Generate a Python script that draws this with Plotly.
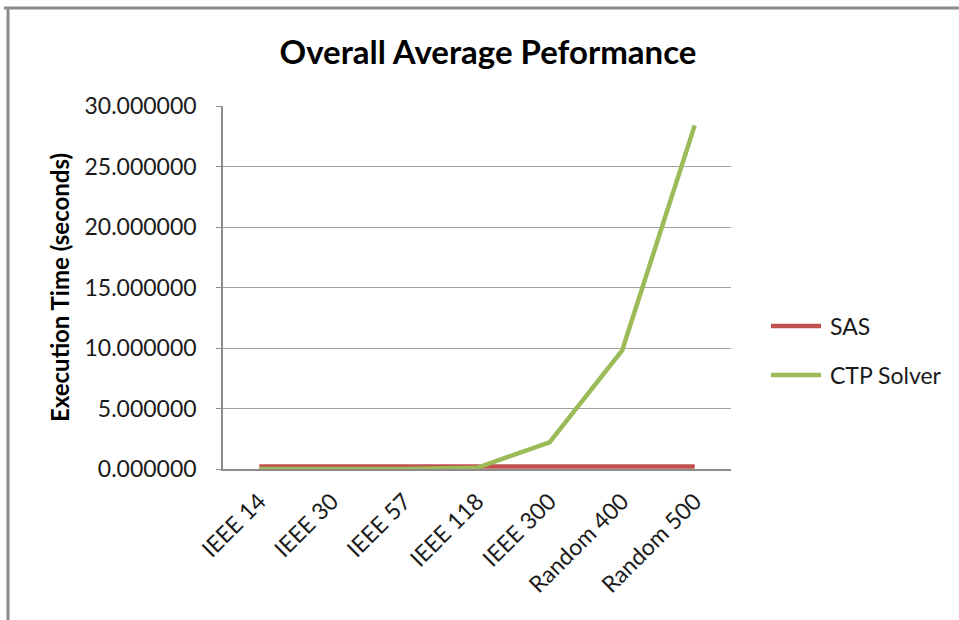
import plotly.graph_objects as go

# Benchmark cases and average execution times (seconds)
cases = ["IEEE 14", "IEEE 30", "IEEE 57", "IEEE 118", "IEEE 300", "Random 400", "Random 500"]
sas_times = [0.2, 0.2, 0.2, 0.2, 0.2, 0.2, 0.2]
ctp_times = [0.0, 0.0, 0.01, 0.1, 2.2, 9.8, 28.4]
y_ticks = [0, 5, 10, 15, 20, 25, 30]

series = [("SAS", sas_times, "#C0504D"), ("CTP Solver", ctp_times, "#9BBB59")]

FONT = "Lato"
TXT = "#1a1a1a"
W, H = 959, 620
L, R, T, B = 223, 731, 106, 469  # plot-area edges in pixels


def px_x(px):
    return (px - L) / (R - L)


def px_y(py):
    return (B - py) / (B - T)


fig = go.Figure()
for name, vals, color in series:
    fig.add_trace(go.Scatter(
        x=cases, y=vals, name=name, mode="lines",
        line=dict(color=color, width=4.5), showlegend=False,
    ))

# legend drawn beside the plot: a line swatch and a label per series
for i, (name, _, color) in enumerate(series):
    ly = 326 + 49 * i
    fig.add_shape(type="line", xref="paper", yref="paper",
                  x0=px_x(771), x1=px_x(821), y0=px_y(ly), y1=px_y(ly),
                  line=dict(color=color, width=4.5))
    fig.add_annotation(xref="paper", yref="paper", x=px_x(828), y=px_y(ly),
                       xanchor="left", yanchor="middle", showarrow=False,
                       text=name, font=dict(family=FONT, size=23, color=TXT))

# chart frame (top and left edges of the outer border)
fig.add_shape(type="line", xref="paper", yref="paper",
              x0=px_x(4), x1=px_x(W + 5), y0=px_y(8), y1=px_y(8),
              line=dict(color="#8c8c8c", width=3))
fig.add_shape(type="line", xref="paper", yref="paper",
              x0=px_x(8), x1=px_x(8), y0=px_y(8), y1=px_y(H + 5),
              line=dict(color="#8c8c8c", width=3))

fig.update_layout(
    width=W, height=H,
    margin=dict(l=L, r=W - R, t=T, b=H - B, pad=0),
    paper_bgcolor="white", plot_bgcolor="white",
    font=dict(family=FONT, size=23, color=TXT),
    title=dict(
        text="<b>Overall Average Peformance</b>",
        x=488 / W, xanchor="center", y=1 - 52 / H, yanchor="middle",
        font=dict(family=FONT, size=33, color="#000000"),
    ),
    showlegend=False,
)

fig.update_xaxes(
    type="category", range=[-0.5, len(cases) - 0.5],
    showgrid=False, zeroline=False,
    showline=True, linecolor="#8c8c8c", linewidth=1.5,
    ticks="", tickangle=-45, ticklabelstandoff=8,
    tickfont=dict(family=FONT, size=23, color=TXT),
)
fig.update_yaxes(
    range=[0, 30], tickvals=y_ticks, tickformat=".6f",
    showgrid=True, gridcolor="#a0a0a0", gridwidth=1,
    zeroline=False,
    showline=True, linecolor="#8c8c8c", linewidth=1.5,
    ticks="outside", ticklen=5, tickcolor="#8c8c8c", ticklabelstandoff=15,
    tickfont=dict(family=FONT, size=23, color=TXT),
    title=dict(text="<b>Execution Time (seconds)</b>", standoff=8,
               font=dict(family=FONT, size=24, color="#000000")),
)

fig.write_html("out.html")
